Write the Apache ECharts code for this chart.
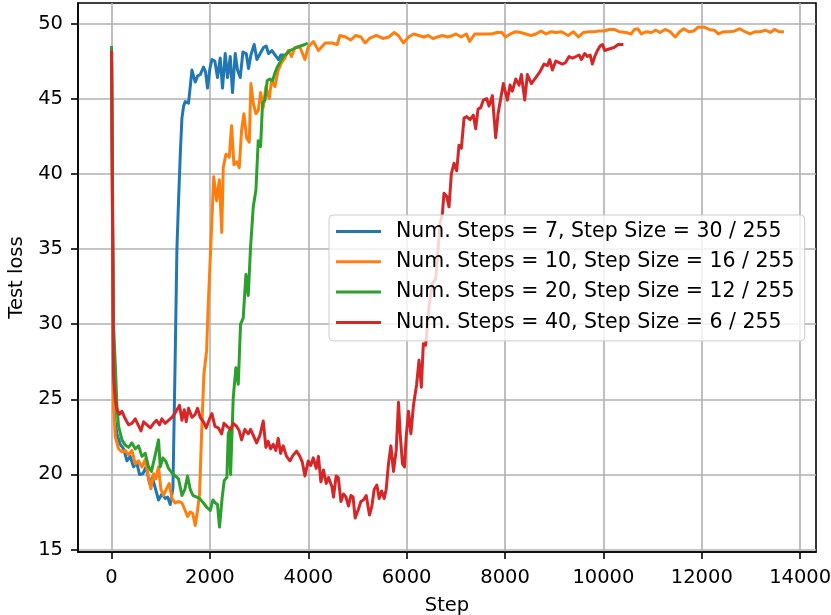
<!DOCTYPE html>
<html>
<head>
<meta charset="utf-8">
<script src="https://cdn.jsdelivr.net/npm/echarts@6.0.0/dist/echarts.min.js"></script>
<style>
  html, body { margin: 0; padding: 0; background: #fff; }
  #chart { width: 831px; height: 615px; }
</style>
</head>
<body>
<div id="chart"></div>
<script>
// tick labels
const stepTicks = [0, 2000, 4000, 6000, 8000, 10000, 12000, 14000];
const lossTicks = [15, 20, 25, 30, 35, 40, 45, 50];

const seriesNames = [
  'Num. Steps = 7, Step Size = 30 / 255',
  'Num. Steps = 10, Step Size = 16 / 255',
  'Num. Steps = 20, Step Size = 12 / 255',
  'Num. Steps = 40, Step Size = 6 / 255',
];

// [step, test loss]
const loss7 = [
  [0, 48.2], [40, 25.0], [75, 23.4], [110, 22.7], [177, 22.0], [245, 21.7], [313, 20.9], [380, 21.2],
  [447, 20.5], [510, 20.8], [569, 20.0], [638, 20.05], [700, 20.5], [772, 19.4], [830, 19.8], [888, 19.1],
  [955, 18.3], [1024, 18.7], [1091, 18.4], [1140, 18.5], [1193, 18.0], [1227, 18.1], [1248, 19.1],
  [1290, 27.0], [1329, 35.0], [1362, 38.2], [1400, 41.5], [1431, 43.7], [1465, 44.5], [1498, 44.8],
  [1530, 44.8], [1565, 44.7], [1600, 45.8], [1634, 46.9], [1701, 46.1], [1750, 46.5], [1803, 46.6],
  [1870, 47.1], [1910, 46.8], [1951, 45.7], [2000, 47.0], [2041, 47.6], [2100, 47.5], [2154, 46.4],
  [2209, 47.7], [2256, 45.7], [2311, 48.0], [2358, 46.4], [2413, 47.8], [2459, 45.4], [2514, 48.0],
  [2561, 46.9], [2616, 46.4], [2671, 48.1], [2738, 48.0], [2785, 47.0], [2833, 47.9], [2900, 48.6],
  [2955, 47.6], [3022, 48.0], [3090, 48.4], [3144, 48.5], [3191, 48.0], [3260, 48.2], [3327, 47.9],
  [3394, 47.6], [3443, 47.9], [3510, 47.9],
];

const loss10 = [
  [0, 48.2], [41, 24.5], [75, 22.5], [143, 21.7], [211, 21.5], [278, 21.6], [346, 21.3], [414, 21.6],
  [482, 20.7], [549, 20.9], [618, 20.5], [685, 21.0], [752, 19.8], [800, 19.05], [854, 20.05], [900, 19.7],
  [955, 20.5], [1004, 19.0], [1057, 18.6], [1126, 19.1], [1173, 19.4], [1227, 18.4], [1295, 18.1],
  [1362, 18.2], [1431, 18.1], [1498, 17.6], [1545, 17.2], [1600, 17.5], [1650, 17.4], [1701, 16.6],
  [1748, 17.6], [1789, 18.7], [1834, 23.0], [1878, 26.7], [1932, 28.2], [1966, 31.3], [2014, 34.9],
  [2077, 39.8], [2138, 38.2], [2192, 39.6], [2240, 36.1], [2271, 40.4], [2325, 41.3], [2393, 41.1],
  [2440, 43.2], [2488, 40.6], [2542, 40.8], [2596, 40.4], [2644, 42.9], [2691, 44.0], [2745, 42.4],
  [2800, 42.1], [2833, 46.0], [2881, 44.7], [2935, 44.0], [2982, 44.2], [3030, 45.4], [3084, 44.4],
  [3138, 45.8], [3206, 45.0], [3253, 46.2], [3321, 45.8], [3389, 46.9], [3457, 47.4], [3525, 47.7],
  [3592, 48.2], [3660, 47.8], [3728, 48.4], [3827, 48.45], [3931, 47.6], [4000, 48.45], [4104, 48.8],
  [4207, 48.2], [4345, 48.7], [4484, 48.7], [4587, 48.6], [4642, 49.2], [4760, 49.1], [4863, 48.9],
  [4967, 49.2], [5071, 49.1], [5154, 48.7], [5243, 49.0], [5382, 49.2], [5520, 49.0], [5637, 49.1],
  [5748, 49.4], [5831, 49.2], [5934, 48.7], [6038, 49.1], [6141, 49.3], [6245, 49.2], [6349, 49.1],
  [6439, 49.2], [6535, 49.0], [6625, 49.1], [6729, 49.2], [6832, 49.1], [6936, 49.2], [7005, 49.3],
  [7109, 49.1], [7212, 49.3], [7281, 48.8], [7385, 49.3], [7488, 49.3], [7627, 49.3], [7730, 49.3],
  [7834, 49.4], [7938, 49.4], [8007, 49.1], [8110, 49.3], [8214, 49.45], [8318, 49.4], [8421, 49.3],
  [8525, 49.2], [8628, 49.3], [8732, 49.5], [8836, 49.3], [8939, 49.45], [9043, 49.4], [9146, 49.45],
  [9285, 49.2], [9389, 49.45], [9492, 49.1], [9596, 49.4], [9700, 49.45], [9803, 49.45], [9907, 49.5],
  [10011, 49.5], [10114, 49.6], [10218, 49.6], [10321, 49.45], [10459, 49.4], [10563, 49.3],
  [10632, 49.6], [10701, 49.65], [10770, 49.3], [10874, 49.45], [10977, 49.4], [11067, 49.55],
  [11150, 49.4], [11253, 49.6], [11357, 49.45], [11460, 49.1], [11550, 49.45], [11633, 49.65],
  [11736, 49.45], [11840, 49.5], [11923, 49.75], [12047, 49.75], [12151, 49.6], [12255, 49.55],
  [12337, 49.3], [12448, 49.45], [12566, 49.45], [12669, 49.5], [12773, 49.65], [12877, 49.45],
  [12981, 49.3], [13084, 49.45], [13188, 49.45], [13291, 49.55], [13395, 49.4], [13477, 49.6],
  [13568, 49.45], [13671, 49.45],
];

const loss20 = [
  [0, 48.5], [40, 30.0], [75, 27.4], [110, 24.5], [143, 23.2], [211, 22.3], [278, 21.95], [346, 21.8],
  [414, 22.1], [482, 21.7], [549, 21.9], [618, 21.2], [685, 21.4], [752, 20.5], [810, 20.2], [868, 21.0],
  [908, 21.1], [955, 22.3], [990, 20.5], [1045, 21.1], [1100, 20.9], [1159, 20.4], [1227, 20.1],
  [1295, 19.9], [1362, 19.7], [1431, 18.6], [1490, 19.0], [1545, 19.9], [1600, 19.0], [1654, 18.6],
  [1720, 18.5], [1789, 18.4], [1870, 18.1], [1939, 17.8], [2006, 17.6], [2061, 18.3], [2110, 18.1],
  [2154, 18.0], [2195, 16.5], [2250, 18.5], [2291, 19.6], [2345, 19.8], [2373, 22.7], [2395, 22.9],
  [2420, 20.0], [2474, 25.1], [2528, 27.1], [2576, 26.0], [2623, 30.0], [2677, 30.4], [2732, 33.3],
  [2779, 31.9], [2826, 35.1], [2881, 37.8], [2935, 38.9], [2982, 42.2], [3030, 41.8], [3070, 44.7],
  [3118, 44.9], [3165, 46.2], [3219, 46.3], [3274, 46.2], [3321, 46.7], [3369, 47.1], [3423, 47.4],
  [3491, 47.8], [3559, 48.0], [3626, 48.2], [3694, 48.3], [3762, 48.4], [3843, 48.5], [3931, 48.6],
  [3990, 48.7],
];

const loss40 = [
  [0, 48.2], [40, 26.5], [75, 25.0], [110, 24.3], [163, 24.0], [211, 24.2], [278, 23.7], [346, 23.3],
  [414, 23.4], [482, 23.7], [540, 23.3], [598, 22.9], [651, 23.5], [720, 23.3], [790, 23.1], [854, 23.4],
  [915, 23.6], [976, 23.3], [1024, 23.7], [1090, 23.4], [1159, 23.6], [1227, 23.8], [1295, 24.1],
  [1382, 24.6], [1431, 23.6], [1478, 24.3], [1518, 23.5], [1565, 24.4], [1634, 23.8], [1701, 24.0],
  [1748, 24.4], [1803, 23.8], [1870, 23.5], [1925, 23.1], [1992, 23.7], [2041, 24.05], [2102, 23.2],
  [2169, 23.1], [2237, 22.7], [2285, 23.4], [2350, 23.2], [2420, 23.0], [2474, 23.4], [2542, 23.2],
  [2596, 22.9], [2644, 22.3], [2710, 23.0], [2779, 22.7], [2826, 23.0], [2881, 22.6], [2949, 22.1],
  [3016, 22.6], [3084, 23.55], [3138, 21.8], [3185, 22.2], [3233, 21.7], [3287, 22.0], [3340, 21.6],
  [3389, 22.4], [3436, 21.4], [3490, 21.9], [3558, 21.2], [3626, 20.9], [3694, 21.3], [3762, 21.55],
  [3829, 21.2], [3880, 20.8], [3931, 19.9], [3999, 20.9], [4050, 20.6], [4100, 21.1], [4161, 20.4],
  [4207, 21.2], [4256, 19.5], [4309, 20.3], [4364, 19.4], [4411, 19.8], [4480, 19.2], [4512, 18.5],
  [4567, 19.9], [4610, 19.8], [4663, 18.2], [4716, 18.7], [4765, 18.5], [4817, 17.9], [4866, 18.6],
  [4910, 18.5], [4953, 17.1], [5020, 17.7], [5069, 18.2], [5120, 18.3], [5177, 18.6], [5244, 17.3],
  [5293, 17.9], [5339, 19.0], [5394, 19.3], [5441, 18.4], [5490, 18.9], [5543, 18.4], [5583, 19.0],
  [5630, 20.7], [5679, 21.9], [5732, 20.2], [5787, 21.6], [5834, 24.8], [5868, 22.7], [5915, 20.7],
  [5955, 20.5], [5990, 22.5], [6037, 24.2], [6086, 22.7], [6138, 24.6], [6203, 26.0], [6251, 27.6],
  [6298, 25.8], [6339, 28.7], [6386, 28.6], [6454, 31.2], [6522, 32.7], [6590, 33.0], [6637, 34.9],
  [6678, 36.7], [6725, 37.3], [6759, 38.7], [6813, 38.5], [6861, 37.8], [6908, 40.0], [6962, 40.7],
  [7017, 40.2], [7064, 41.9], [7112, 41.7], [7166, 43.7], [7220, 43.8], [7288, 43.6], [7356, 43.9],
  [7403, 43.0], [7451, 44.3], [7505, 44.4], [7559, 44.9], [7627, 45.0], [7674, 44.5], [7742, 45.2],
  [7810, 42.4], [7858, 44.0], [7912, 45.0], [7966, 46.0], [8047, 44.9], [8102, 45.9], [8149, 45.5],
  [8217, 46.3], [8285, 45.9], [8332, 46.6], [8400, 44.9], [8454, 46.6], [8536, 46.0], [8624, 46.4],
  [8712, 46.8], [8793, 47.3], [8861, 47.2], [8909, 47.6], [8963, 46.9], [9031, 47.5], [9098, 47.4],
  [9166, 47.3], [9230, 47.4], [9302, 47.8], [9370, 47.7], [9440, 47.8], [9505, 47.9], [9553, 47.6],
  [9620, 48.0], [9675, 47.8], [9730, 47.9], [9776, 47.3], [9824, 47.8], [9878, 48.2], [9932, 48.5],
  [9980, 48.6], [10027, 48.2], [10115, 48.3], [10217, 48.4], [10299, 48.6], [10407, 48.6],
];

const colors = ['#1f77b4', '#ff7f0e', '#2ca02c', '#d62728'];
const fontFamily = 'DejaVu Sans';

const myChart = echarts.init(document.getElementById('chart'), null, { renderer: 'canvas' });

const lineSeries = (name, data) => ({
  name: name,
  type: 'line',
  data: data,
  symbol: 'none',
  showSymbol: false,
  lineStyle: { width: 3, join: 'round' },
  emphasis: { disabled: true },
});

const option = {
  animation: false,
  backgroundColor: '#fff',
  color: colors,
  grid: {
    left: 78,
    top: 3,
    right: 15,
    bottom: 63,
    outerBoundsMode: 'none',
    containLabel: false,
    show: true,
    borderColor: '#000',
    borderWidth: 1.6,
    backgroundColor: 'transparent',
  },
  legend: {
    orient: 'vertical',
    left: 329,
    top: 215,
    icon: 'rect',
    itemWidth: 45,
    itemHeight: 3,
    itemGap: 9.3,
    padding: [6, 10, 8, 7],
    backgroundColor: 'rgba(255,255,255,0.8)',
    borderColor: '#cccccc',
    borderWidth: 1,
    borderRadius: 4,
    textStyle: {
      fontFamily: fontFamily,
      fontSize: 20.5,
      lineHeight: 20,
      color: '#000',
      padding: [0, 0, 0, 10],
    },
    data: seriesNames,
  },
  xAxis: {
    type: 'value',
    min: -682,
    max: 14322,
    splitNumber: 7,
    minInterval: 2000,
    maxInterval: 2000,
    name: 'Step',
    nameLocation: 'middle',
    nameGap: 44,
    nameTextStyle: { fontFamily: fontFamily, fontSize: 19.5, color: '#000' },
    axisLine: { show: true, onZero: false, lineStyle: { color: '#000', width: 1.6 } },
    axisTick: { show: true, inside: false, length: 7, lineStyle: { color: '#000', width: 1.6 }, customValues: stepTicks },
    axisLabel: {
      fontFamily: fontFamily,
      fontSize: 19.5,
      color: '#000',
      margin: 16,
      hideOverlap: false,
      customValues: stepTicks,
      formatter: (value) => String(value),
    },
    splitLine: { show: true, lineStyle: { color: '#b0b0b0', width: 1.6 } },
  },
  yAxis: {
    type: 'value',
    min: 14.84,
    max: 51.36,
    splitNumber: 7,
    minInterval: 5,
    maxInterval: 5,
    name: 'Test loss',
    nameLocation: 'middle',
    nameGap: 50,
    nameTextStyle: { fontFamily: fontFamily, fontSize: 19.5, color: '#000' },
    axisLine: { show: true, onZero: false, lineStyle: { color: '#000', width: 1.6 } },
    axisTick: { show: true, inside: false, length: 7, lineStyle: { color: '#000', width: 1.6 }, customValues: lossTicks },
    axisLabel: {
      fontFamily: fontFamily,
      fontSize: 19.5,
      color: '#000',
      margin: 15,
      customValues: lossTicks,
      formatter: (value) => String(value),
    },
    splitLine: { show: true, lineStyle: { color: '#b0b0b0', width: 1.6 } },
  },
  series: [
    lineSeries(seriesNames[0], loss7),
    lineSeries(seriesNames[1], loss10),
    lineSeries(seriesNames[2], loss20),
    lineSeries(seriesNames[3], loss40),
  ],
};

myChart.setOption(option);
</script>
</body>
</html>
